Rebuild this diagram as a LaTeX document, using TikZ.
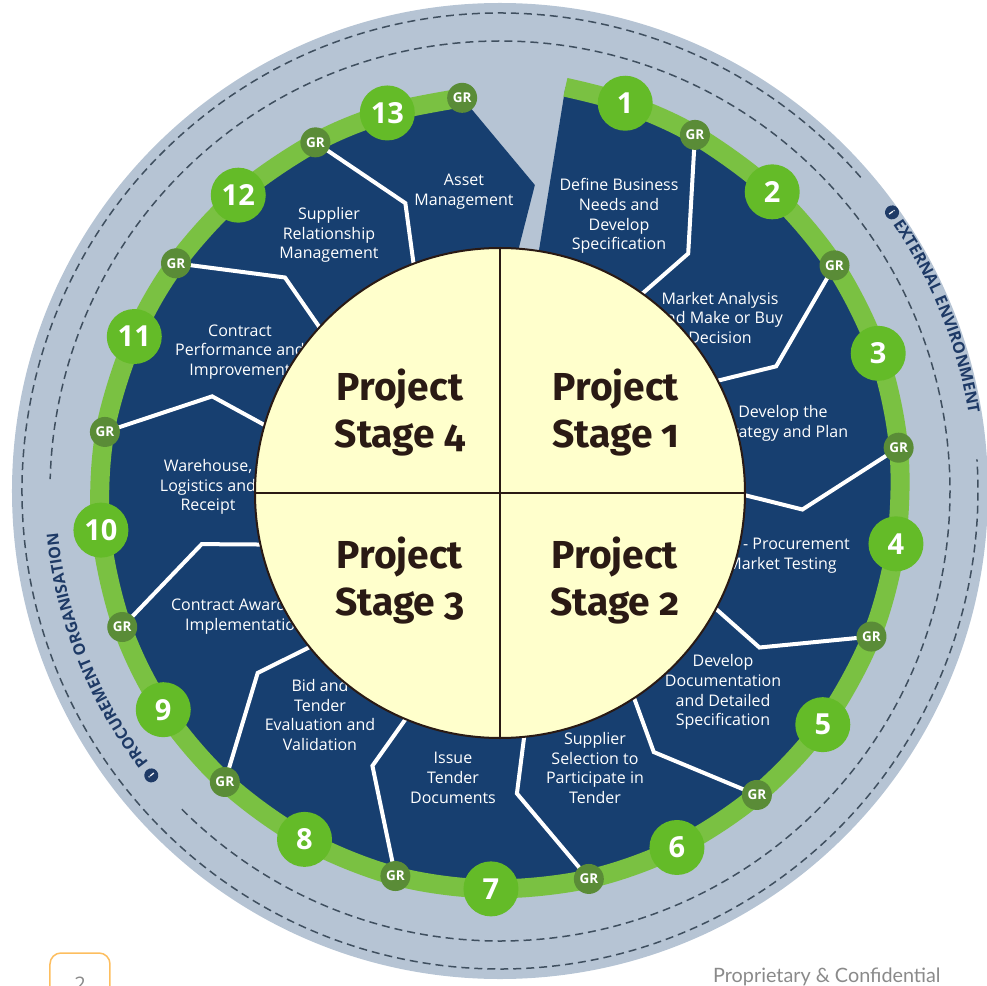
\documentclass[tikz,border=0pt]{standalone}
\usepackage{fontspec}
\setmainfont{Open Sans}
\newfontfamily\stagefont[Numbers=OldStyle]{Fira Sans}
\newfontfamily\pagefont{Lato}
\usepackage{tikz}
\usetikzlibrary{decorations.text}
\definecolor{ringgrey}{HTML}{B6C4D4}
\definecolor{navy}{HTML}{173F70}
\definecolor{bandgreen}{HTML}{7AC142}
\definecolor{numgreen}{HTML}{64BB28}
\definecolor{grgreen}{HTML}{5A8C37}
\definecolor{hubyellow}{HTML}{FFFFCC}
\definecolor{hubbrown}{HTML}{2A1A14}
\definecolor{dashgrey}{HTML}{3F4F5F}
\definecolor{tagnavy}{HTML}{1E3A66}
\definecolor{pageorange}{HTML}{FDBE5F}
\definecolor{pagegrey}{HTML}{8A8A8A}
\newcommand{\tagfont}{\color{tagnavy}\fontsize{16}{16}\selectfont\bfseries}
\tikzstyle{phase} = [text=white, align=center, font=\fontsize{16}{19.7}\selectfont]
\tikzstyle{numdot} = [circle, fill=numgreen, text=white, minimum size=55pt, inner sep=0pt, font=\fontsize{29}{29}\selectfont\bfseries]
\tikzstyle{grdot} = [circle, fill=grgreen, text=white, minimum size=30pt, inner sep=0pt, font=\fontsize{13.5}{13.5}\selectfont\bfseries]
\tikzstyle{divider} = [draw=white, line width=4pt, line join=miter]
\tikzstyle{band} = [draw=bandgreen, line width=19pt, line cap=butt]
\tikzstyle{stagetext} = [text=hubbrown, align=center, font=\fontsize{39}{47}\selectfont\stagefont\bfseries]
\tikzstyle{dashring} = [draw=dashgrey, line width=1.5pt, dash pattern=on 8pt off 5pt]
\tikzstyle{infodot} = [circle, fill=tagnavy, text=white, minimum size=14pt, inner sep=0pt, font=\fontsize{9}{9}\selectfont\bfseries]

\begin{document}
\begin{tikzpicture}[x=1pt, y=1pt]
	\useasboundingbox (-500,-494) rectangle (487,491);
	% outer rings
	\fill[ringgrey] (0,0) circle[radius=488pt];
	\draw[dashring] (41:478) arc[start angle=41, end angle=363.8, radius=478pt];
	\draw[dashring] (225:450) arc[start angle=225, end angle=538.5, radius=450pt];
	\node[infodot, rotate=-54.6] (exticon) at (35.4:481) {i};
	\path[decorate, decoration={text along path, text={|\tagfont|EXTERNAL ENVIRONMENT}}] (34.2:475) arc[start angle=34.2, end angle=-20, radius=475pt];
	\node[infodot, rotate=129.2] (orgicon) at (219.2:450) {i};
	\path[decorate, decoration={text along path, text={|\tagfont|PROCUREMENT ORGANISATION}}] (217.7:444) arc[start angle=217.7, end angle=150, radius=444pt];

	% points on the green ring
	\coordinate (s0) at (80.8:409);
	\foreach \a/\r [count=\i] in {72.1/407.5, 47.7/404.5, 20.0/402.5, -7.6/399.5, -35.9/398.5, -63.6/398, -91.3/398, -119.3/399.5, -147.0/401.5, -174.4/401, -202.9/397, -228.5/395, -253.4/394.5}
		\coordinate (n\i) at (\a:\r);
	\foreach \a/\r [count=\i] in {61.3/406, 34.0/403.5, 6.2/401, -21.4/399, -49.8/398, -77.1/398, -105.2/399, -133.4/400.5, -160.2/401.5, -188.5/399.5, -215.1/396, -242.1/394.5, -264.5/395}
		\coordinate (g\i) at (\a:\r);

	% steps
	\fill[navy] (80.8:225) -- plot[smooth, tension=0.55] coordinates {(s0) (n1) (g1) (n2) (g2) (n3) (g3) (n4) (g4) (n5) (g5) (n6) (g6) (n7) (g7) (n8) (g8) (n9) (g9) (n10) (g10) (n11) (g11) (n12) (g12) (n13) (g13)} -- (83.5:308) -- (86.4:225) -- cycle;
	\node (ph1) [phase] at (119,275) {Define Business\\Needs and\\Develop\\Specification};
	\node (ph2) [phase] at (220,173) {Market Analysis\\and Make or Buy\\Decision};
	\node (ph3) [phase] at (283,68) {Develop the\\Strategy and Plan};
	\node (ph4) [phase] at (282,-65) {Pre - Procurement\\Market Testing};
	\node (ph5) [phase] at (223,-201) {Develop\\Documentation\\and Detailed\\Specification};
	\node (ph6) [phase] at (95,-277) {Supplier\\Selection to\\Participate in\\Tender};
	\node (ph7) [phase] at (-47,-287) {Issue\\Tender\\Documents};
	\node (ph8) [phase] at (-180,-224) {Bid and\\Tender\\Evaluation and\\Validation};
	\node (ph9) [phase] at (-255,-125) {Contract Award and\\Implementation};
	\node (ph10) [phase] at (-292,4) {Warehouse,\\Logistics and\\Receipt};
	\node (ph11) [phase] at (-260,139) {Contract\\Performance and\\Improvement};
	\node (ph12) [phase] at (-171,256) {Supplier\\Relationship\\Management};
	\node (ph13) [phase] at (-36,299) {Asset\\Management};

	\foreach \a [count=\i] in {61.3, 34.0, 6.2, -21.4, -49.8, -77.1, -105.2, -133.4, -160.2, -188.5, -215.1, -242.1} {
		\coordinate (bend\i) at ({\a-9.7}:303);
		\coordinate (foot\i) at ({\a-6}:225);
		\draw[divider] (g\i) -- (bend\i) -- (foot\i);
	}
	\draw[band] plot[smooth, tension=0.55] coordinates {(s0) (n1) (g1) (n2) (g2) (n3) (g3) (n4) (g4) (n5) (g5) (n6) (g6) (n7) (g7) (n8) (g8) (n9) (g9) (n10) (g10) (n11) (g11) (n12) (g12) (n13) (g13)};
	\foreach \i in {1,...,13} {
		\node[grdot] (gr\i) at (g\i) {GR};
		\node[numdot] (num\i) at (n\i) {\i};
	}

	% project stages
	\node (hub) [circle, draw=hubbrown, line width=2pt, fill=hubyellow, minimum size=490pt] at (0,-2) {};
	\draw[hubbrown, line width=2pt] (hub.north) -- (hub.south);
	\draw[hubbrown, line width=2pt] (hub.west) -- (hub.east);
	\node (st4) [stagetext] at (-100,78) {Project\\Stage 4};
	\node (st1) [stagetext] at (116,78) {Project\\Stage 1};
	\node (st3) [stagetext] at (-100,-90) {Project\\Stage 3};
	\node (st2) [stagetext] at (115,-90) {Project\\Stage 2};

	% page
	\begin{scope}
		\clip (-500,-494) rectangle (487,491);
		\draw[pageorange, line width=1.5pt, rounded corners=11pt] (-450,-530) rectangle (-390,-462);
		\node (pg) [anchor=base, text=pagegrey, font=\fontsize{20}{20}\selectfont] at (-420,-500) {2};
		\node (conf) [anchor=base west, inner sep=0pt, text=pagegrey, font=\pagefont\fontsize{19.8}{19.8}\selectfont] at (213,-491) {Proprietary \& Confidential};
	\end{scope}
\end{tikzpicture}
\end{document}
